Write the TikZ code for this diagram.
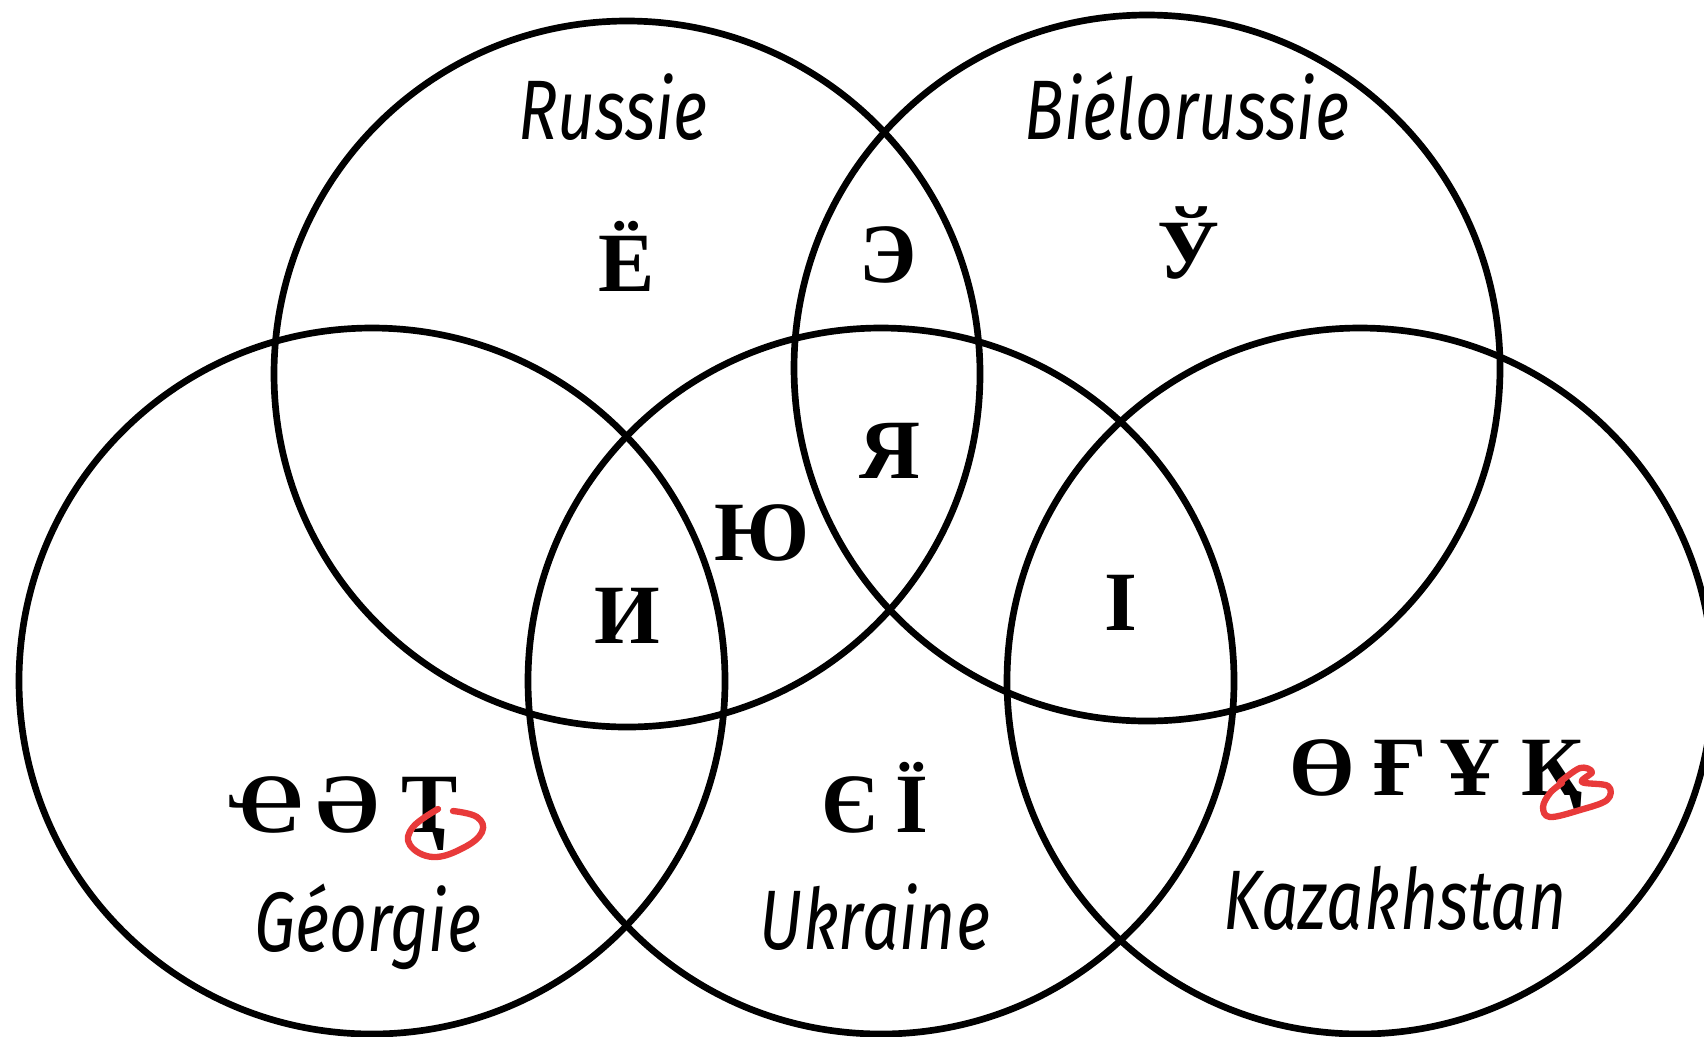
\documentclass[tikz,border=0pt]{standalone}
\usepackage{fontspec}
\setmainfont{Liberation Serif}
\newfontfamily\labelfont{Fira Sans}[FakeStretch=0.78]
\definecolor{pen}{RGB}{232,58,58}

\begin{document}
\begin{tikzpicture}[x=0.01cm, y=-0.01cm,
 ring/.style={draw, line width=1.9pt},
 country/.style={font=\labelfont\itshape\fontsize{24}{28}\selectfont, anchor=base, inner sep=0pt},
 letter/.style={font=\bfseries\fontsize{24}{28}\selectfont, anchor=base, inner sep=0pt},
 annot/.style={draw=pen, line width=1.8pt, line cap=round, line join=round}]
\useasboundingbox (0,0) rectangle (1704,1036);
% circle centres
\coordinate (cRus) at (627,374);
\coordinate (cBel) at (1147,368);
\coordinate (cGeo) at (372,681);
\coordinate (cUkr) at (881,681);
\coordinate (cKaz) at (1360,681);
\foreach \c in {cRus,cBel,cGeo,cUkr,cKaz}
 \draw[ring] (\c) circle[radius=353];
% country names
\node[country] (nRus) at (613,139) {Russie};
\node[country] (nBel) at (1187,139) {Biélorussie};
\node[country] (nGeo) at (368,951) {Géorgie};
\node[country] (nUkr) at (875,949) {Ukraine};
\node[country] (nKaz) at (1395,929) {Kazakhstan};
% letters in single regions and overlaps
\node[letter] (lYo) at (627,291) {Ё};
\node[letter] (lE) at (888,282) {Э};
\node[letter] (lWu) at (1188,278) {Ў};
\node[letter] (lYa) at (890,478) {Я};
\node[letter] (lYu) at (762,560) {Ю};
\node[letter] (lI) at (627,643) {И};
\node[letter] (lDotI) at (1121,630) {І};
% Georgia row
\node[letter] (gChe) at (266,832) {Ҽ};
\node[letter] (gSchwa) at (348,832) {Ә};
\node[letter] (gTe) at (430,832) {Ҭ};
% Ukraine row
\node[letter] (uYe) at (850,832) {Є};
\node[letter] (uYi) at (912,832) {Ї};
% Kazakhstan row
\node[letter] (kO) at (1322,795) {Ө};
\node[letter] (kGh) at (1400,795) {Ғ};
\node[letter] (kU) at (1470,795) {Ұ};
\node[letter] (kKa) at (1552,795) {Қ};
% red rings round the descenders
\draw[annot] plot[smooth, tension=0.7] coordinates {(453,811) (477,817) (482,832) (463,848) (433,857) (410,845) (413,827) (438,809)};
\draw[annot] plot[smooth, tension=0.6] coordinates {(1560,782) (1580,768) (1592,772) (1582,782) (1608,786) (1607,800) (1580,810) (1550,817) (1543,807) (1550,793) (1562,783)};
\end{tikzpicture}
\end{document}
